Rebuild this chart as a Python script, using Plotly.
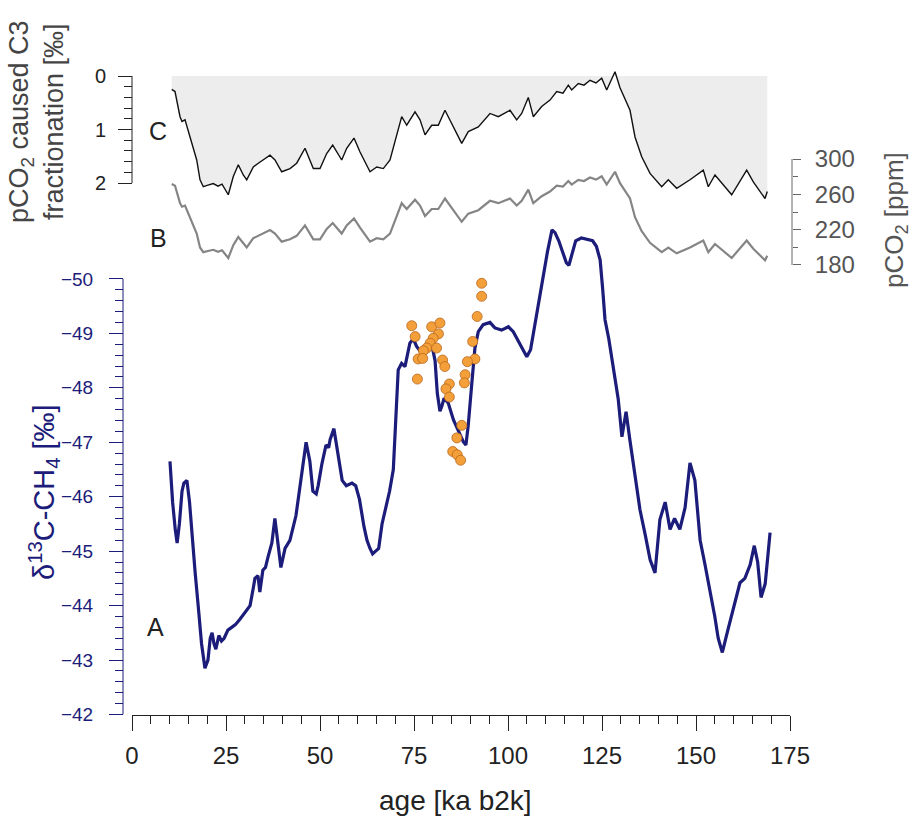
import plotly.graph_objects as go

# ---------------- data ----------------
# Panel A: delta13C-CH4 record
age_ch4 = [10.1, 10.8, 11.5, 12.0, 12.6, 13.3, 13.8, 14.6, 15.3, 16.0, 16.8, 17.6, 18.5, 19.4,
           20.2, 20.8, 21.3, 21.8, 22.3, 23.1, 23.8, 24.5, 25.5, 26.5, 27.5, 28.7, 29.8, 30.5,
           31.4, 32.2, 32.7, 33.5, 34.0, 34.8, 35.5, 36.2, 37.2, 38.0, 38.8, 39.6, 40.7, 42.0,
           43.6, 44.5, 45.2, 46.3, 47.3, 48.1, 49.0, 49.5, 50.5, 51.6, 52.3, 52.7, 53.7, 54.8,
           55.9, 57.0, 58.5, 59.5, 60.5, 61.7, 62.5, 63.3, 64.0, 64.8, 65.6, 66.5, 67.5, 68.5,
           69.5, 70.2, 70.8, 71.7, 72.6, 73.9, 74.8, 75.7, 77.0, 78.5, 80.0, 80.6, 81.2, 81.9,
           82.4, 83.0, 84.1, 85.5, 87.2, 88.1, 88.8, 89.4, 90.3, 91.2, 92.1, 93.4, 95.2, 96.5,
           98.3, 100.1, 101.4, 103.2, 105.0, 106.0, 107.0, 108.2, 109.5, 110.5, 111.7, 112.5,
           113.5, 114.5, 115.5, 116.2, 117.0, 118.0, 119.5, 121.0, 122.5, 123.5, 124.5, 125.2,
           125.8, 126.8, 127.7, 128.5, 129.3, 130.3, 130.9, 131.4, 132.4, 133.8, 135.1, 136.5,
           137.8, 139.1, 140.4, 141.8, 143.1, 144.3, 145.7, 147.1, 148.4, 149.7, 151.1, 152.4,
           153.7, 155.0, 155.9, 157.0, 158.5, 160.4, 161.7, 163.0, 164.4, 165.5, 166.4, 167.3,
           168.4, 169.7]
d13c_ch4 = [-46.65, -45.9, -45.4, -45.15, -45.5, -46.1, -46.25, -46.3, -45.9, -45.2, -44.6, -44.0,
            -43.3, -42.85, -43.0, -43.4, -43.5, -43.3, -43.2, -43.45, -43.35, -43.4, -43.55, -43.6,
            -43.65, -43.75, -43.85, -43.9, -44.0, -44.3, -44.5, -44.55, -44.25, -44.65, -44.7,
            -44.9, -45.15, -45.6, -45.1, -44.7, -45.05, -45.2, -45.65, -46.1, -46.5, -47.0, -46.65,
            -46.1, -46.05, -46.2, -46.6, -46.95, -46.9, -47.05, -47.25, -46.75, -46.3, -46.2,
            -46.25, -46.2, -45.95, -45.45, -45.2, -45.05, -44.95, -45.0, -45.05, -45.5, -45.8,
            -46.1, -46.5, -47.5, -48.33, -48.45, -48.39, -48.82, -48.9, -48.76, -48.64, -48.75,
            -48.7, -48.5, -47.9, -47.57, -47.66, -47.81, -47.72, -47.41, -47.17, -47.01, -46.95,
            -47.29, -48.02, -48.73, -49.03, -49.16, -49.2, -49.1, -49.06, -49.12, -49.03, -48.79,
            -48.57, -48.7, -49.1, -49.6, -50.1, -50.5, -50.9, -50.85, -50.7, -50.5, -50.3, -50.25,
            -50.45, -50.7, -50.75, -50.72, -50.7, -50.6, -50.35, -49.8, -49.25, -48.9, -48.5,
            -48.2, -47.8, -47.1, -47.4, -47.56, -47.05, -46.4, -45.76, -45.3, -44.84, -44.6,
            -45.58, -45.9, -45.4, -45.6, -45.4, -45.8, -46.62, -46.3, -45.2, -44.75, -44.3, -43.8,
            -43.4, -43.14, -43.56, -44.1, -44.42, -44.5, -44.75, -45.1, -44.8, -44.15, -44.4,
            -45.34]

# Panel A: discrete measurements (orange dots)
age_pts = [93.0, 93.0, 91.8, 90.6, 91.2, 89.2, 88.6, 88.4, 74.4, 75.3, 79.7, 81.9, 81.5, 80.1,
           79.3, 78.4, 77.5, 81.0, 76.1, 77.3, 75.9, 82.6, 83.2, 84.4, 83.5, 84.4, 87.7, 86.4,
           85.3, 86.5, 87.4]
d13c_pts = [-49.92, -49.68, -49.31, -48.85, -48.53, -48.48, -48.24, -48.09, -49.14, -48.94,
            -49.12, -49.19, -48.99, -48.91, -48.82, -48.73, -48.68, -48.73, -48.53, -48.54,
            -48.16, -48.51, -48.39, -48.07, -47.98, -47.83, -47.31, -47.08, -46.83, -46.77,
            -46.67]

# Panels B and C: pCO2 and pCO2-caused C3 fractionation
age_co2 = [10.56, 11.44, 12.77, 13.30, 14.10, 15.43, 17.21, 18.09, 18.96, 20.21, 21.62, 22.87,
           23.94, 25.61, 26.94, 28.27, 29.60, 30.51, 32.26, 33.59, 34.92, 36.70, 38.03, 39.81,
           42.02, 43.80, 46.01, 48.22, 50.00, 51.78, 53.38, 55.77, 57.10, 59.04, 60.64, 63.30,
           65.08, 66.84, 68.62, 70.21, 71.73, 73.06, 75.27, 76.60, 77.93, 79.71, 81.46, 83.24,
           85.03, 87.69, 89.44, 92.10, 95.21, 97.42, 100.53, 102.31, 103.64, 105.40, 106.73,
           108.96, 111.17, 112.95, 114.63, 116.04, 116.94, 118.70, 120.21, 121.81, 123.40,
           124.92, 126.25, 127.58, 128.46, 129.79, 132.45, 133.78, 135.56, 137.77, 140.88,
           142.63, 144.87, 148.40, 151.94, 153.27, 155.05, 159.49, 163.48, 165.24, 168.35,
           168.96]
frac_c3 = [0.25, 0.29, 0.76, 0.85, 0.82, 1.14, 1.57, 1.94, 2.07, 2.04, 2.01, 2.06, 2.02, 2.22,
           1.88, 1.66, 1.85, 1.94, 1.70, 1.63, 1.57, 1.48, 1.57, 1.79, 1.73, 1.63, 1.35, 1.73,
           1.73, 1.45, 1.29, 1.57, 1.35, 1.16, 1.42, 1.79, 1.70, 1.73, 1.57, 1.16, 0.76, 0.92,
           0.67, 0.82, 1.10, 0.92, 0.92, 0.64, 0.88, 1.26, 1.04, 0.95, 0.70, 0.76, 0.64, 0.82,
           0.70, 0.40, 0.76, 0.57, 0.45, 0.29, 0.32, 0.17, 0.26, 0.14, 0.17, 0.08, 0.13, 0.04,
           0.26, 0.04, -0.08, 0.22, 0.64, 1.14, 1.51, 1.82, 2.07, 1.94, 2.10, 1.94, 1.76, 2.07,
           1.85, 2.22, 1.76, 1.98, 2.29, 2.16]
pco2 = [271.7, 269.8, 250.0, 246.0, 247.3, 234.1, 215.6, 199.8, 194.5, 195.8, 197.2, 195.0,
        196.6, 187.9, 202.4, 211.7, 203.8, 199.8, 210.3, 213.0, 215.6, 219.6, 215.6, 206.4,
        209.1, 213.0, 224.9, 209.1, 209.1, 220.9, 227.5, 215.6, 224.9, 232.8, 222.2, 206.4,
        210.3, 209.1, 215.6, 233.1, 250.0, 243.4, 253.9, 247.3, 235.4, 243.4, 243.4, 255.3,
        244.7, 228.9, 238.1, 242.0, 252.7, 250.0, 255.3, 247.3, 252.7, 265.3, 250.0, 257.9,
        263.2, 269.8, 268.8, 275.1, 271.1, 276.4, 275.1, 279.0, 276.7, 280.4, 271.1, 280.4,
        285.6, 272.7, 255.3, 234.1, 218.2, 205.1, 194.5, 199.8, 193.2, 199.8, 207.7, 194.5,
        203.8, 187.9, 207.7, 198.4, 185.3, 190.5]

# tick labels
x_ticks = [0, 25, 50, 75, 100, 125, 150, 175]
a_ticks = [-50, -49, -48, -47, -46, -45, -44, -43, -42]
c_ticks = [0, 1, 2]
b_ticks = [180, 220, 260, 300]

# ---------------- layout helpers ----------------
W, H = 915, 821
def fx(p):
    return p / W
def fy(p):
    return 1 - p / H

NAVY = "#1c1c7a"
FONT = "Liberation Sans, Arial, sans-serif"

a_minor = [round(-50 + 0.2 * i, 1) for i in range(41) if i % 5 != 0]
c_minor = [round(0.2 * i, 1) for i in range(11) if i % 5 != 0]
b_minor = [200, 240, 280]
x_minor = [v for v in range(0, 176, 5) if v % 25 != 0]

fig = go.Figure()

fig.add_trace(go.Scatter(x=age_co2, y=frac_c3, xaxis="x", yaxis="y2", mode="lines",
                         fill="tozeroy", fillcolor="#ededed",
                         line=dict(color="#111111", width=1.4), hoverinfo="skip"))
fig.add_trace(go.Scatter(x=age_co2, y=pco2, xaxis="x", yaxis="y3", mode="lines",
                         line=dict(color="#858585", width=2.2), hoverinfo="skip"))
fig.add_trace(go.Scatter(x=age_ch4, y=d13c_ch4, xaxis="x", yaxis="y", mode="lines",
                         line=dict(color=NAVY, width=3.2), hoverinfo="skip"))
fig.add_trace(go.Scatter(x=age_pts, y=d13c_pts, xaxis="x", yaxis="y", mode="markers",
                         marker=dict(size=10, color="#f4a03a",
                                     line=dict(color="#b8661c", width=0.8)),
                         hoverinfo="skip"))

x_dom = [fx(132), fx(790)]

fig.update_layout(
    template="none",
    width=W, height=H,
    margin=dict(l=0, r=0, t=0, b=0),
    paper_bgcolor="white",
    plot_bgcolor="rgba(0,0,0,0)",
    showlegend=False,
    font=dict(family=FONT, color="#222222"),
    xaxis=dict(domain=x_dom, range=[0, 175], anchor="y", showgrid=False, zeroline=False,
               showline=True, linecolor="#222222", linewidth=1,
               tickmode="array", tickvals=x_ticks, ticks="outside", ticklen=15,
               tickcolor="#222222", tickwidth=1,
               tickfont=dict(size=24, color="#222222"),
               ticklabelstandoff=5,
               minor=dict(tickmode="array", tickvals=x_minor, ticks="outside", ticklen=8,
                          tickcolor="#222222", tickwidth=1, showgrid=False)),
    yaxis=dict(domain=[fy(714.5), fy(219)], range=[-42, -51.1], anchor="free",
               position=fx(123), showgrid=False, zeroline=False, showline=False,
               tickmode="array", tickvals=a_ticks, ticks="outside", ticklen=14,
               tickcolor=NAVY, tickwidth=1, tickfont=dict(size=19, color=NAVY),
               ticklabelstandoff=12,
               minor=dict(tickmode="array", tickvals=a_minor, ticks="outside", ticklen=8,
                          tickcolor=NAVY, tickwidth=1, showgrid=False)),
    yaxis2=dict(domain=[fy(204.4), fy(68)], range=[2.4, -0.15], anchor="free",
                position=fx(132), showgrid=False, zeroline=False, showline=False,
                tickmode="array", tickvals=c_ticks, ticks="outside", ticklen=14,
                tickcolor="#222222", tickwidth=1, tickfont=dict(size=20, color="#222222"),
                ticklabelstandoff=8,
                minor=dict(tickmode="array", tickvals=c_minor, ticks="outside", ticklen=8,
                           tickcolor="#222222", tickwidth=1, showgrid=False)),
    yaxis3=dict(domain=[fy(268.5), fy(155.5)], range=[176, 304], anchor="free",
                position=fx(792), side="right", showgrid=False, zeroline=False,
                showline=False, tickmode="array", tickvals=b_ticks, ticks="outside",
                ticklen=8, tickcolor="#666666", tickwidth=1,
                tickfont=dict(size=24, color="#555555"), ticklabelstandoff=9,
                minor=dict(tickmode="array", tickvals=b_minor, ticks="outside", ticklen=5,
                           tickcolor="#666666", tickwidth=1, showgrid=False)),
    hovermode=False,
)

# axis spines limited to the labelled ranges
fig.add_shape(type="line", xref="paper", yref="y", x0=fx(123), x1=fx(123),
              y0=a_ticks[-1], y1=a_ticks[0], line=dict(color=NAVY, width=1))
fig.add_shape(type="line", xref="paper", yref="y2", x0=fx(132), x1=fx(132),
              y0=c_ticks[0], y1=c_ticks[-1], line=dict(color="#222222", width=1))
fig.add_shape(type="line", xref="paper", yref="y3", x0=fx(792), x1=fx(792),
              y0=b_ticks[0], y1=b_ticks[-1], line=dict(color="#666666", width=1))

def ann(text, x, y, size, color="#222222", angle=0, family=FONT):
    fig.add_annotation(text=text, x=fx(x), y=fy(y), xref="paper", yref="paper",
                       showarrow=False, textangle=angle, xanchor="center", yanchor="middle",
                       font=dict(size=size, color=color, family=family))

ann("C", 158, 131, 25)
ann("B", 158, 238, 25)
ann("A", 155, 627, 25)
ann("age [ka b2k]", 455, 800, 28)
ann("δ<sup>13</sup>C-CH<sub>4</sub> [‰]", 44, 492, 29, color=NAVY, angle=-90)
ann("pCO<sub>2</sub> caused C3<br>fractionation [‰]", 36, 122, 27, color="#444444", angle=-90)
ann("pCO<sub>2</sub> [ppm]", 895, 220, 26, color="#555555", angle=-90)

fig.write_html("out.html")
